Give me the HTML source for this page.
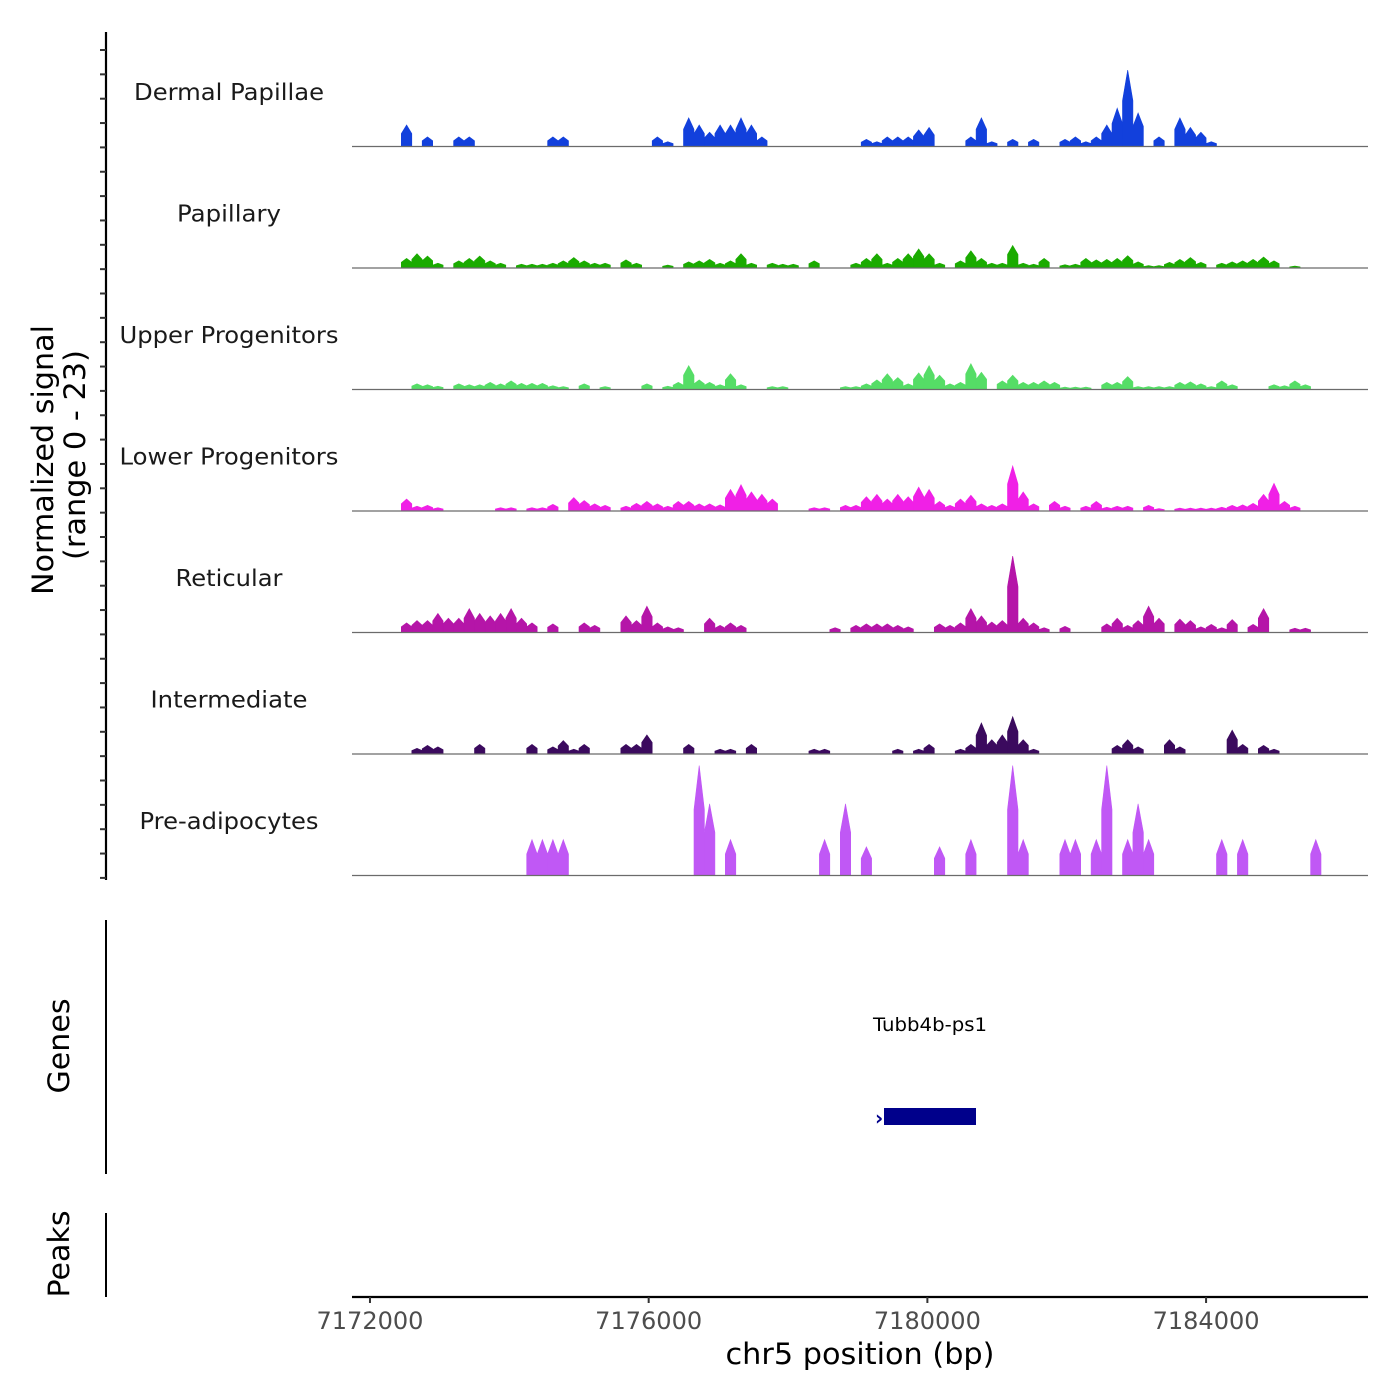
<!DOCTYPE html>
<html><head><meta charset="utf-8"><style>
html,body{margin:0;padding:0;background:#fff;}
svg{display:block;font-family:"DejaVu Sans","Liberation Sans",sans-serif;}
</style></head><body>
<svg id="chart" width="1400" height="1400" viewBox="0 0 1400 1400" xmlns="http://www.w3.org/2000/svg">
<g id="tracks"></g>
<g id="axes"></g>
<text x="460" y="54" font-size="29" text-anchor="middle" textLength="270" lengthAdjust="spacingAndGlyphs" transform="rotate(-90 460 54) translate(-460 -54) translate(0 0)" fill="#000" style="display:none">Normalized signal</text>
<text x="53" y="460" font-size="29" text-anchor="middle" textLength="270" lengthAdjust="spacingAndGlyphs" transform="rotate(-90 53 460)" fill="#000">Normalized signal</text>
<text x="85" y="455" font-size="29" text-anchor="middle" textLength="210" lengthAdjust="spacingAndGlyphs" transform="rotate(-90 85 455)" fill="#000">(range 0 - 23)</text>
<line x1="106" y1="920" x2="106" y2="1174" stroke="#000" stroke-width="2"/>
<text x="69" y="1046" font-size="29" text-anchor="middle" textLength="95" lengthAdjust="spacingAndGlyphs" transform="rotate(-90 69 1046)">Genes</text>
<line x1="106" y1="1213" x2="106" y2="1297" stroke="#000" stroke-width="2"/>
<text x="69" y="1254" font-size="29" text-anchor="middle" textLength="87" lengthAdjust="spacingAndGlyphs" transform="rotate(-90 69 1254)">Peaks</text>
<text x="930" y="1031" font-size="19" text-anchor="middle" textLength="114" lengthAdjust="spacingAndGlyphs">Tubb4b-ps1</text>
<rect x="884" y="1108" width="92" height="17" fill="#00008b"/>
<text x="875" y="1125" font-size="20" font-weight="bold" fill="#00008b">›</text>
<text x="970" y="1123" font-size="14" font-weight="bold" fill="#00008b">›</text>
<text x="860" y="1364" font-size="29" text-anchor="middle" textLength="269" lengthAdjust="spacingAndGlyphs">chr5 position (bp)</text>
</svg>
<script>
const binStart = 7172000;
const binSize = 150;
const trackNames = ["Dermal Papillae","Papillary","Upper Progenitors","Lower Progenitors","Reticular","Intermediate","Pre-adipocytes"];
const trackColors = ["#1240dc","#1aab00","#55dd66","#f020e6","#b515a8","#3b0a5e","#c058f5"];
const xTicks = [7172000,7176000,7180000,7184000];
const dermal = {3:4.5,5:2,8:2,9:2,17:2,18:2,27:2,28:1,30:6,31:4.5,32:3,33:4.5,34:4.5,35:6,36:4.5,37:2,47:1.5,48:1,49:2,50:2,51:2,52:3.5,53:4,57:2,58:6,59:1,61:1.5,63:1.5,66:1.5,67:2,68:1,69:2,70:4.5,71:8,72:16,73:7,75:2,77:6,78:4,79:3,80:1};
const papillary = {3:2,4:3,5:2.5,6:1,8:1.5,9:2,10:2.5,11:1.5,12:1,14:0.8,15:0.8,16:0.8,17:1,18:1.5,19:2.2,20:1.5,21:1,22:1,24:1.7,25:1,28:0.6,30:1.3,31:1.5,32:1.8,33:1,34:1.5,35:3,36:1,38:1,39:0.8,40:0.8,42:1.5,46:1,47:2,48:3,49:1,50:2,51:3,52:4,53:3,54:1,56:1.5,57:3.6,58:2,59:1,60:1,61:4.7,62:1,63:0.8,64:2,66:0.7,67:0.8,68:2,69:1.7,70:1.8,71:2,72:2.6,73:1.3,74:0.5,75:0.5,76:1.2,77:1.8,78:2.2,79:1.2,81:1,82:1.3,83:1.5,84:1.8,85:2.3,86:1.5,88:0.4};
const upper = {4:1.2,5:1,6:0.7,8:1.2,9:1,10:1,11:1.5,12:1.2,13:1.8,14:1.3,15:1.3,16:1.3,17:0.8,18:0.6,20:1.2,22:0.6,26:1.2,28:0.7,29:1.5,30:5,31:2,32:1.5,33:1,34:3.3,35:1,38:0.6,39:0.6,45:0.6,46:0.6,47:1.2,48:2,49:3.3,50:2.5,51:1.2,52:3.5,53:5,54:3,55:1.2,56:1.5,57:5.4,58:3.6,60:1.8,61:3,62:1.5,63:1.5,64:1.8,65:1.5,66:0.5,67:0.5,68:0.5,70:1.5,71:1.5,72:2.7,73:0.6,74:0.6,75:0.6,76:0.6,77:1.5,78:1.6,79:1.2,80:0.6,81:1.8,82:1,86:1,87:0.8,88:1.8,89:1};
const lower = {3:2.5,4:1,5:1.2,6:0.7,12:0.7,13:0.7,15:0.7,16:0.7,17:1.4,19:2.8,20:2.2,21:1.5,22:1.2,24:1,25:1.6,26:2,27:1.5,28:1,29:2,30:2,31:1.5,32:1.5,33:1.3,34:4.5,35:5.5,36:4,37:3.5,38:2.5,42:0.7,43:0.7,45:1.2,46:1.2,47:3,48:3.5,49:2.5,50:3.5,51:3,52:5,53:4.5,54:2,55:1.2,56:2.5,57:3.3,58:1.5,59:1.2,60:1.5,61:9.4,62:4,63:1.5,65:2,66:1,68:1,69:2,70:0.8,71:1,72:1,74:1.2,75:0.5,77:0.6,78:0.6,79:0.6,80:0.6,81:0.8,82:1.2,83:1.3,84:1.6,85:3.5,86:5.8,87:2,88:1};
const reticular = {3:2,4:2.5,5:2.5,6:4,7:3,8:3,9:5,10:4,11:3.5,12:4,13:5,14:3,15:2,17:1.8,20:2,21:1.5,24:3.5,25:2.5,26:5.5,27:2,28:1.2,29:1,32:3,33:1.5,34:2,35:1.5,44:1,46:1.5,47:1.8,48:1.8,49:1.8,50:1.5,51:1.2,54:1.8,55:1.5,56:2,57:5,58:3.5,59:2.2,60:2.5,61:16,62:3,63:2,64:1,66:1.3,70:1.8,71:3,72:1.5,73:2.5,74:5.5,75:3,77:2.8,78:2.5,79:1.2,80:1.7,81:1,82:2.7,84:1.7,85:5,88:0.9,89:0.9};
const intermediate = {4:1.2,5:1.8,6:1.5,10:2,15:2,17:1.5,18:2.8,19:1,20:2,24:2,25:2,26:4,30:2,33:1,34:1,36:2,42:1,43:1,50:1,52:1,53:2,56:1,57:2,58:6.5,59:3,60:4,61:7.8,62:3,63:1,71:1.8,72:3,73:1.5,76:3,77:1.5,82:5,83:2,85:1.8,86:1};
const preadipo = {15:7.5,16:7.5,17:7.5,18:7.5,31:23,32:15,34:7.5,43:7.5,45:15,47:6,54:6,57:7.5,61:23,62:7.5,66:7.5,67:7.5,69:7.5,70:23,72:7.5,73:15,74:7.5,81:7.5,83:7.5,90:7.5};
const series = [dermal,papillary,upper,lower,reticular,intermediate,preadipo];

const NS="http://www.w3.org/2000/svg";
const xMin=7171742, pxPerBp=0.069675, plotL=352, plotR=1368;
function xScale(bp){return plotL+(bp-xMin)*pxPerBp;}
const trackTop=25, trackH=121.5, yMax=23, yRangePx=110;
function yScale(t,v){const base=trackTop+(t+1)*trackH; return base - v/yMax*yRangePx;}
function mk(tag,attrs,parent){const e=document.createElementNS(NS,tag);for(const k in attrs)e.setAttribute(k,attrs[k]);parent.appendChild(e);return e;}

const tracks=document.getElementById('tracks');
const axes=document.getElementById('axes');
const labelWidths=[190,104,219,219,107,157,179];
series.forEach((s,t)=>{
  const g=mk('g',{},tracks);
  
  
  const base=yScale(t,0);
  let d='';
  Object.keys(s).map(Number).sort((a,b)=>a-b).forEach(i=>{
    const x0=xScale(binStart+i*binSize), x1=xScale(binStart+(i+1)*binSize);
    const y=yScale(t,s[i]);
    const peakX=(x0+x1)/2;
    d+=`M${x0.toFixed(1)},${base}L${x0.toFixed(1)},${(base+(y-base)*0.6).toFixed(1)}L${peakX.toFixed(1)},${y.toFixed(1)}L${x1.toFixed(1)},${(base+(y-base)*0.6).toFixed(1)}L${x1.toFixed(1)},${base}Z`;
  });
  const p=mk('path',{d:d,fill:trackColors[t],stroke:trackColors[t],'stroke-width':'0.6'},g);
  
  
  const bl=mk('line',{x1:plotL,x2:plotR,y1:base,y2:base,stroke:'#6b6b6b','stroke-width':'1.2'},g);
  
  
  const lb=mk('text',{x:229,y:trackTop+t*trackH+75,'font-size':'23','text-anchor':'middle',fill:'#1a1a1a',textLength:labelWidths[t],lengthAdjust:'spacingAndGlyphs'},g);
  lb.textContent=trackNames[t];
  
  
});
const la=mk('line',{x1:106,x2:106,y1:32,y2:880,stroke:'#000','stroke-width':'2.2'},axes);


for(let y=50;y<=880;y+=24.35){
  const tk=mk('line',{x1:100,x2:106,y1:y,y2:y,stroke:'#333','stroke-width':'2'},axes);
  
  
}
const xa=mk('line',{x1:plotL,x2:plotR,y1:1297,y2:1297,stroke:'#000','stroke-width':'2.2'},axes);


xTicks.forEach(v=>{
  const x=xScale(v);
  const tk=mk('line',{x1:x,x2:x,y1:1297,y2:1303,stroke:'#333','stroke-width':'2'},axes);
  
  
  const tl=mk('text',{x:x,y:1329,'font-size':'24','text-anchor':'middle',fill:'#4d4d4d',textLength:'107',lengthAdjust:'spacingAndGlyphs'},axes);
  tl.textContent=v;
  
  
});
</script>
</body></html>
